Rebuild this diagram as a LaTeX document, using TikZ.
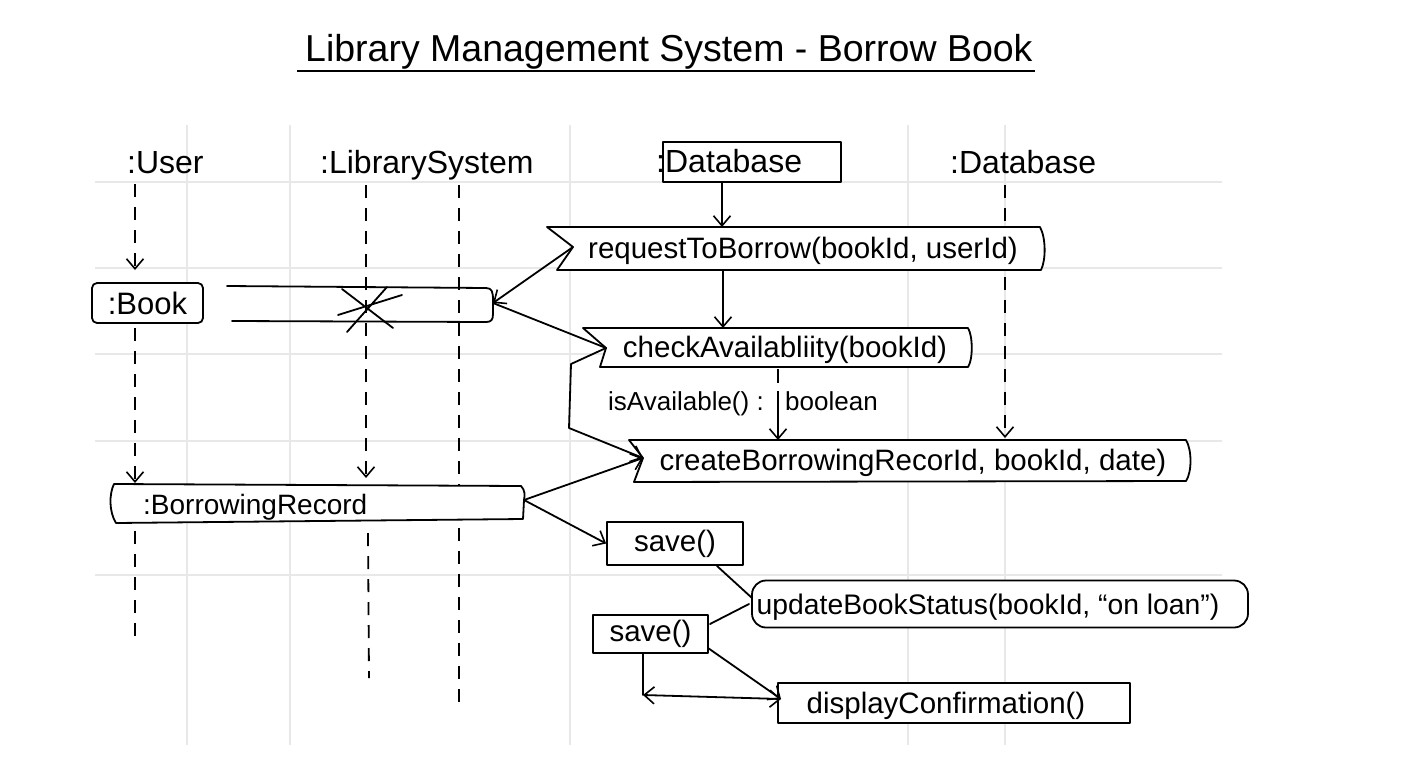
\documentclass[tikz,border=0pt]{standalone}
\usepackage{fontspec}
\setmainfont{Liberation Sans}
\usetikzlibrary{arrows.meta}
\newcommand\fmsg{\fontsize{29.5}{34}\selectfont}
\newcommand\fhdr{\fontsize{32}{36}\selectfont}
\begin{document}
\begin{tikzpicture}[x=1pt,y=-1pt,
  ln/.style={line width=1.8pt, line cap=round, line join=round},
  life/.style={line width=1.8pt, dash pattern=on 13pt off 10pt},
  tip/.style={-{Straight Barb[length=10pt,width=17pt,line width=1.6pt]}},
  dtip/.style={{Straight Barb[length=10pt,width=17pt,line width=1.6pt]}-{Straight Barb[length=10pt,width=17pt,line width=1.6pt]}},
  gridln/.style={line width=1.2pt, draw=black!9},
  hdr/.style={font=\fhdr, inner sep=0pt, anchor=base west},
  msg/.style={font=\fmsg, inner sep=0pt, anchor=base},
  box/.style={draw, ln, fill=white},
]
\useasboundingbox (0,0) rectangle (1408,768);
\fill[white] (0,0) rectangle (1408,768);

% background grid
\foreach \gx in {187,290,570,908,1005} \draw[gridln] (\gx,125) -- (\gx,745);
\foreach \gy in {182,268,354,441,575} \draw[gridln] (95,\gy) -- (1222,\gy);

% title
\node[font=\fontsize{37.5}{42}\selectfont, inner sep=0pt, anchor=base west] (title) at (305,62) {Library Management System - Borrow Book};
\draw[line width=2.6pt] ([shift={(-8,9)}]title.base west) -- ([shift={(2,9)}]title.base east);

% lifeline heads
\node[hdr] (user) at (127,173) {:User};
\node[hdr] (lib) at (320,173) {:LibrarySystem};
\node[hdr] (db1) at (656,172) {:Database};
\node[draw, ln, minimum width=178pt, minimum height=40pt, inner sep=0pt] (db1box) at (752,162) {};
\node[hdr] (db2) at (950,173) {:Database};

% lifeline coordinates
\coordinate (u0) at (135,184); \coordinate (u1) at (135,270);
\coordinate (u2) at (135,328); \coordinate (u3) at (135,483);
\coordinate (u4) at (135,531); \coordinate (u5) at (135,642);
\coordinate (l0) at (366,185); \coordinate (l1) at (366,478);
\coordinate (l2) at (368,533); \coordinate (l3) at (369,678);
\coordinate (m0) at (459,185); \coordinate (m1) at (459,486);
\coordinate (m2) at (459,528); \coordinate (m3) at (459,705);
\coordinate (d0) at (1005,185); \coordinate (d1) at (1005,438);

\draw[life,tip] (u0) -- (u1);
\draw[life,tip] (u2) -- (u3);
\draw[life] (u4) -- (u5);
\draw[life,tip] (l0) -- (l1);
\draw[life] (l2) -- (l3);
\draw[life] (m0) -- (m1);
\draw[life] (m2) -- (m3);
\draw[life,tip] (d0) -- (d1);

% :Book and the crossed bar
\node[box, rounded corners=5pt, minimum width=111pt, minimum height=40pt, inner sep=0pt, font=\fontsize{31}{34}\selectfont] (book) at (147.5,303) {:Book};
\draw[ln] (227,286) -- (486,288) .. controls (492,288) and (493,292) .. (493,300) -- (493,314) .. controls (493,320) and (491,322) .. (486,322) -- (232,321);
\coordinate (barR) at (493,303);
\draw[ln] (342,289) -- (393,328) (347,332) -- (387,287) (338,315) -- (402,295);

% requestToBorrow
\draw[box] (547,227) -- (1040,227) .. controls (1046,238) and (1046,260) .. (1041,270) -- (557,270) -- (573,247) -- cycle;
\coordinate (rtbN) at (573,247);
\coordinate (rtbT) at (722,227);
\coordinate (rtbB) at (723,271);
\node[msg] (rtb) at (803,258) {requestToBorrow(bookId, userId)};

% checkAvailabliity
\draw[box] (583,328) -- (968,328) .. controls (973,336) and (973,360) .. (968,367) -- (600,367) -- (606,348) -- cycle;
\coordinate (chkN) at (606,348);
\coordinate (chkT) at (723,328);
\coordinate (chkB) at (778,369);
\node[msg] (chk) at (785,357) {checkAvailabliity(bookId)};

% isAvailable label
\node[font=\fontsize{26}{30}\selectfont, inner sep=0pt, anchor=base west] (isav) at (608,410) {isAvailable() :};
\node[font=\fontsize{26}{30}\selectfont, inner sep=0pt, anchor=base west] (bool) at (785,410) {boolean};

% createBorrowingRecord
\coordinate (cbrN) at (643,458);
\coordinate (cbrT) at (778,440);
\draw[box] (629,440) -- (1186,440) .. controls (1192,450) and (1192,472) .. (1186,481) -- (634,482) -- (cbrN) -- cycle;
\node[msg] (cbr) at (913,470) {createBorrowingRecorId, bookId, date)};

% :BorrowingRecord
\draw[box] (114,484) -- (521,486) .. controls (525,490) and (525,495) .. (524,500) -- (523,519) -- (116,523) .. controls (109,512) and (109,494) .. (114,484) -- cycle;
\coordinate (brecR) at (524,500);
\node[font=\fontsize{28}{32}\selectfont, inner sep=0pt, anchor=base west] (brec) at (143,514) {:BorrowingRecord};

% save() boxes, updateBookStatus, displayConfirmation
\node[box, minimum width=136pt, minimum height=43pt, inner sep=0pt, font=\fmsg] (save1) at (675,543.5) {save()};
\node[box, rounded corners=14pt, minimum width=496pt, minimum height=47pt, inner sep=0pt] (updbox) at (1000,604) {};
\node[font=\fontsize{28.3}{32}\selectfont, inner sep=0pt, anchor=base] (upd) at (988,614) {updateBookStatus(bookId, “on loan”)};
\node[box, minimum width=115pt, minimum height=38pt, inner sep=0pt, font=\fmsg] (save2) at (650.5,634) {save()};
\node[box, minimum width=352pt, minimum height=40pt, inner sep=0pt] (dispbox) at (954,703) {};
\node[msg] (disp) at (946,713) {displayConfirmation()};

\coordinate (s1o) at (717,566);
\coordinate (updL) at (752,598);
\coordinate (updN) at (749,604);
\coordinate (s2r) at (710,624);
\coordinate (s2d) at (708,648);
\coordinate (s2b) at (643,653);
\coordinate (crn) at (643,695);
\coordinate (dispL) at (781,699);
\coordinate (br1) at (571,364);
\coordinate (br2) at (569,428);

% connectors
\draw[ln,tip] (db1box.south -| rtbT) -- (rtbT);
\draw[ln,tip] (rtbB) -- (chkT);
\draw[ln,tip] (rtbN) -- (barR);
\draw[ln] (barR) -- (chkN);
\draw[ln,tip] (chkN) -- (br1) -- (br2) -- (cbrN);
\draw[line width=1.8pt, dash pattern=on 14pt off 8pt on 200pt off 0pt, tip] (chkB) -- (cbrT);
\draw[ln,tip] (brecR) -- (cbrN);
\draw[ln,tip] (brecR) -- (save1.west);
\draw[ln] (s1o) -- (updL);
\draw[ln] (s2r) -- (updN);
\draw[ln,tip] (s2d) -- (dispL);
\draw[ln] (s2b) -- (crn);
\draw[ln,dtip] (crn) -- (dispL);
\end{tikzpicture}
\end{document}
